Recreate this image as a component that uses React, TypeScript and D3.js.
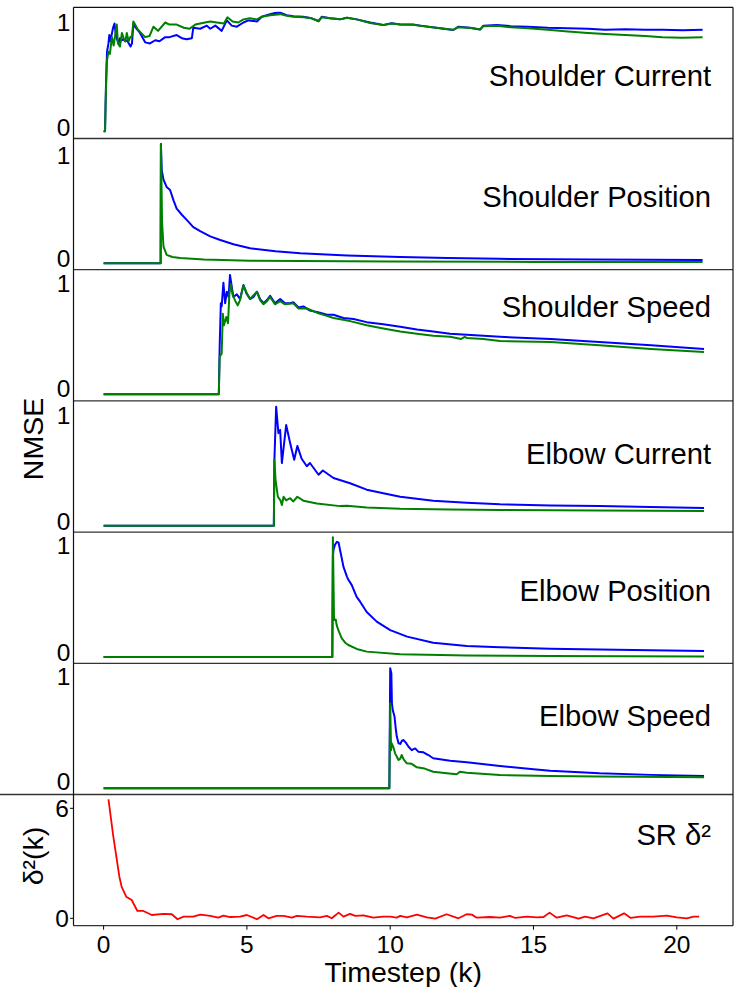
import React from 'react';
import * as d3 from 'd3';

type Pt = [number, number];

// ---------- data ----------
const panelTitles = ['Shoulder Current', 'Shoulder Position', 'Shoulder Speed', 'Elbow Current', 'Elbow Position', 'Elbow Speed', 'SR δ²'];
const xTicks = [0, 5, 10, 15, 20];
const nmseTicks = [0, 1];
const srTicks = [0, 6];
const xLabel = 'Timestep (k)';
const nmseLabel = 'NMSE';
const srLabel = 'δ²(k)';

const shoulderCurrentBlue: Pt[] = [
  [0, -0.04], [0.05, -0.04], [0.08, 0.37], [0.12, 0.72], [0.17, 0.8], [0.2, 0.88], [0.24, 0.82], [0.28, 0.88], [0.33, 0.95], [0.38, 0.99],
  [0.42, 0.9], [0.46, 0.85], [0.52, 0.8], [0.57, 0.85], [0.62, 0.83], [0.7, 0.84], [0.76, 0.82], [0.82, 0.83], [0.88, 0.8], [0.94, 0.77],
  [0.99, 0.8], [1.04, 0.99], [1.12, 0.95], [1.27, 0.9], [1.45, 0.81], [1.62, 0.8], [1.8, 0.83], [1.95, 0.82], [2.15, 0.86], [2.3, 0.86],
  [2.55, 0.88], [2.73, 0.85], [2.9, 0.84], [3.08, 0.85], [3.13, 0.95], [3.37, 0.94], [3.6, 0.97], [3.72, 0.94], [3.9, 0.97], [4.12, 0.92],
  [4.3, 1.02], [4.47, 0.97], [4.65, 0.96], [4.88, 1.0], [5.05, 1.02], [5.35, 1.01], [5.52, 1.055], [5.81, 1.08], [5.95, 1.09], [6.16, 1.094],
  [6.39, 1.07], [6.62, 1.06], [6.97, 1.055], [7.26, 1.04], [7.5, 1.014], [7.61, 1.055], [7.9, 1.04], [8.25, 1.03], [8.49, 1.046], [8.83, 1.03],
  [9.3, 1.0], [9.76, 0.976], [10.05, 0.992], [10.35, 0.98], [10.8, 0.98], [11.04, 0.97], [11.6, 0.95], [12.2, 0.928], [12.38, 0.96], [12.79, 0.95],
  [13.14, 0.934], [13.25, 0.97], [13.72, 0.976], [14.2, 0.965], [14.8, 0.96], [15.5, 0.95], [16.2, 0.945], [16.9, 0.94], [17.5, 0.93], [18.2, 0.935],
  [18.9, 0.93], [19.5, 0.93], [20.2, 0.925], [20.9, 0.93],
];
const shoulderCurrentGreen: Pt[] = [
  [0, -0.04], [0.05, -0.04], [0.07, 0.21], [0.11, 0.62], [0.17, 0.72], [0.22, 0.7], [0.29, 0.86], [0.35, 0.78], [0.46, 0.98], [0.5, 0.8],
  [0.57, 0.77], [0.64, 0.9], [0.7, 0.85], [0.76, 0.82], [0.81, 0.9], [0.87, 0.82], [0.93, 0.86], [0.99, 0.87], [1.04, 1.01], [1.2, 0.93],
  [1.45, 0.86], [1.6, 0.87], [1.74, 0.96], [1.9, 0.92], [2.15, 1.0], [2.3, 0.98], [2.55, 0.98], [2.8, 0.95], [3.0, 0.94], [3.2, 0.98],
  [3.54, 1.0], [3.72, 1.01], [3.95, 1.0], [4.2, 0.99], [4.32, 1.05], [4.5, 1.01], [4.7, 1.0], [4.88, 1.03], [5.1, 1.04], [5.35, 1.03],
  [5.52, 1.055], [5.81, 1.07], [6.16, 1.08], [6.39, 1.065], [6.62, 1.055], [6.97, 1.05], [7.26, 1.04], [7.5, 1.01], [7.61, 1.05], [7.9, 1.04],
  [8.25, 1.03], [8.49, 1.045], [8.83, 1.03], [9.3, 0.995], [9.76, 0.975], [10.05, 0.99], [10.35, 0.98], [10.8, 0.978], [11.04, 0.97], [11.6, 0.95],
  [12.2, 0.93], [12.38, 0.955], [12.79, 0.948], [13.14, 0.932], [13.25, 0.965], [13.72, 0.97], [14.2, 0.955], [14.8, 0.945], [15.5, 0.93], [16.2, 0.915],
  [16.9, 0.9], [17.5, 0.89], [18.2, 0.88], [18.9, 0.87], [19.5, 0.86], [20.2, 0.855], [20.9, 0.86],
];

const shoulderPositionBlue: Pt[] = [
  [0, -0.05], [1.99, -0.05], [2.0, 1.107], [2.03, 0.85], [2.09, 0.76], [2.2, 0.69], [2.32, 0.66], [2.44, 0.56], [2.55, 0.48], [2.73, 0.42],
  [2.9, 0.37], [3.13, 0.3], [3.37, 0.26], [3.72, 0.21], [4.07, 0.175], [4.53, 0.133], [5.11, 0.094], [6.0, 0.065], [6.86, 0.045], [8.5, 0.025],
  [10.35, 0.01], [12, 0.0], [13.8, -0.008], [17, -0.015], [20.9, -0.02],
];
const shoulderPositionGreen: Pt[] = [
  [0, -0.05], [1.99, -0.05], [2.0, 1.107], [2.04, 0.35], [2.09, 0.11], [2.2, 0.03], [2.4, 0.01], [2.67, 0.0], [3.5, -0.015], [5.11, -0.026],
  [10, -0.035], [15, -0.038], [20.9, -0.04],
];

const shoulderSpeedBlue: Pt[] = [
  [0, -0.057], [4.02, -0.057], [4.05, 0.4], [4.09, 0.81], [4.12, 0.78], [4.18, 1.006], [4.24, 0.81], [4.3, 0.92], [4.36, 0.87], [4.41, 1.08],
  [4.47, 0.97], [4.53, 0.87], [4.65, 0.895], [4.76, 0.85], [4.88, 0.984], [4.99, 0.9], [5.11, 0.85], [5.23, 0.87], [5.35, 0.92], [5.46, 0.85],
  [5.58, 0.81], [5.7, 0.84], [5.81, 0.88], [5.98, 0.81], [6.16, 0.85], [6.33, 0.81], [6.5, 0.81], [6.62, 0.82], [6.8, 0.77], [6.97, 0.78],
  [7.2, 0.74], [7.55, 0.72], [7.79, 0.7], [8.02, 0.7], [8.37, 0.67], [8.72, 0.66], [9.18, 0.63], [9.76, 0.61], [10.35, 0.587], [10.93, 0.56],
  [11.5, 0.54], [12.09, 0.52], [12.67, 0.51], [13.25, 0.5], [13.83, 0.49], [15.6, 0.47], [17.3, 0.44], [19.1, 0.41], [20.95, 0.375],
];
const shoulderSpeedGreen: Pt[] = [
  [0, -0.057], [4.02, -0.057], [4.05, 0.3], [4.12, 0.33], [4.16, 0.71], [4.2, 0.6], [4.28, 0.68], [4.34, 0.62], [4.39, 0.9], [4.44, 0.99],
  [4.5, 0.89], [4.6, 0.83], [4.68, 0.79], [4.76, 0.84], [4.88, 0.98], [4.99, 0.91], [5.11, 0.85], [5.35, 0.92], [5.46, 0.84], [5.58, 0.8],
  [5.7, 0.83], [5.81, 0.87], [5.98, 0.8], [6.16, 0.83], [6.33, 0.8], [6.62, 0.81], [6.8, 0.76], [7.1, 0.76], [7.44, 0.72], [7.79, 0.69],
  [8.02, 0.67], [8.6, 0.64], [9.18, 0.6], [9.76, 0.57], [10.35, 0.54], [10.93, 0.52], [11.5, 0.5], [12.09, 0.49], [12.48, 0.47], [12.6, 0.49],
  [12.67, 0.48], [13.25, 0.47], [13.83, 0.45], [15.6, 0.44], [17.3, 0.41], [19.1, 0.375], [20.95, 0.346],
];

const elbowCurrentBlue: Pt[] = [
  [0, -0.037], [5.94, -0.037], [5.96, 0.58], [6.02, 1.078], [6.1, 0.83], [6.16, 0.86], [6.22, 0.55], [6.37, 0.906], [6.51, 0.735], [6.65, 0.58],
  [6.76, 0.71], [6.91, 0.59], [7.09, 0.52], [7.2, 0.55], [7.5, 0.44], [7.65, 0.48], [8.02, 0.41], [8.6, 0.36], [9.18, 0.3], [9.76, 0.266],
  [10.35, 0.234], [11.5, 0.197], [12.67, 0.178], [13.83, 0.163], [15.6, 0.152], [17.3, 0.147], [19.07, 0.138], [20.95, 0.128],
];
const elbowCurrentGreen: Pt[] = [
  [0, -0.037], [5.94, -0.037], [5.96, 0.58], [6.0, 0.39], [6.08, 0.234], [6.17, 0.2], [6.22, 0.157], [6.28, 0.234], [6.37, 0.2], [6.51, 0.22],
  [6.62, 0.19], [6.76, 0.234], [6.97, 0.197], [7.44, 0.17], [8.25, 0.146], [8.49, 0.15], [9.18, 0.134], [10.35, 0.121], [12.1, 0.115], [13.83, 0.109],
  [17.3, 0.104], [20.95, 0.1],
];

const elbowPositionBlue: Pt[] = [
  [0, -0.04], [7.98, -0.04], [8.0, 0.9], [8.02, 0.958], [8.07, 1.005], [8.14, 1.035], [8.2, 1.026], [8.25, 0.958], [8.31, 0.88], [8.37, 0.8],
  [8.49, 0.71], [8.54, 0.68], [8.66, 0.63], [8.72, 0.59], [8.83, 0.52], [8.95, 0.476], [9.18, 0.38], [9.53, 0.29], [10.0, 0.21], [10.59, 0.15],
  [11.5, 0.093], [12.67, 0.0625], [13.83, 0.05], [15.58, 0.037], [17.3, 0.03], [19.1, 0.022], [20.95, 0.016],
];
const elbowPositionGreen: Pt[] = [
  [0, -0.04], [7.98, -0.04], [8.0, 1.077], [8.04, 0.305], [8.1, 0.31], [8.13, 0.26], [8.19, 0.21], [8.31, 0.134], [8.43, 0.093], [8.54, 0.072],
  [8.83, 0.035], [9.18, 0.01], [10.35, -0.015], [12.67, -0.025], [15.58, -0.031], [20.95, -0.035],
];

const elbowSpeedBlue: Pt[] = [
  [0, -0.063], [9.97, -0.063], [10.0, 1.08], [10.04, 1.03], [10.06, 0.747], [10.09, 0.68], [10.15, 0.62], [10.2, 0.49], [10.23, 0.43], [10.29, 0.366],
  [10.35, 0.36], [10.41, 0.39], [10.46, 0.397], [10.55, 0.37], [10.64, 0.333], [10.75, 0.3], [10.87, 0.317], [10.98, 0.286], [11.16, 0.28], [11.33, 0.254],
  [11.5, 0.223], [12.09, 0.2], [12.67, 0.185], [13.83, 0.15], [15.0, 0.118], [15.58, 0.105], [17.3, 0.08], [19.1, 0.065], [20.95, 0.054],
];
const elbowSpeedGreen: Pt[] = [
  [0, -0.063], [9.97, -0.063], [10.0, 0.747], [10.03, 0.3], [10.05, 0.366], [10.11, 0.33], [10.17, 0.27], [10.29, 0.207], [10.35, 0.22], [10.4, 0.254],
  [10.48, 0.207], [10.58, 0.175], [10.75, 0.17], [10.93, 0.137], [11.2, 0.125], [11.5, 0.095], [11.97, 0.08], [12.32, 0.07], [12.43, 0.095], [12.67, 0.086],
  [13.83, 0.064], [15.58, 0.054], [17.3, 0.05], [20.95, 0.043],
];

const srDelta: Pt[] = [
  [0.17, 6.49], [0.34, 4.45], [0.55, 2.27], [0.63, 1.72], [0.79, 1.18], [0.98, 1.0], [1.18, 0.4], [1.39, 0.4], [1.68, 0.18], [2.09, 0.24],
  [2.38, 0.22], [2.58, -0.05], [2.79, 0.09], [3.13, 0.09], [3.37, 0.2], [3.72, 0.13], [4.0, 0.035], [4.18, 0.15], [4.41, 0.07], [4.76, 0.09],
  [5.0, 0.18], [5.35, -0.05], [5.58, 0.18], [5.75, 0.0], [6.04, 0.13], [6.28, 0.13], [6.57, 0.035], [6.74, 0.13], [7.09, 0.09], [7.55, 0.055],
  [7.79, 0.13], [7.96, 0.0], [8.2, 0.31], [8.37, 0.09], [8.6, 0.24], [8.78, 0.13], [9.07, 0.16], [9.41, 0.035], [9.76, 0.09], [10.0, 0.09],
  [10.23, 0.035], [10.35, 0.13], [10.58, 0.055], [10.93, 0.2], [11.28, 0.055], [11.57, -0.02], [11.97, 0.22], [12.38, 0.0], [12.67, 0.22], [12.85, 0.2],
  [13.02, 0.035], [13.49, 0.07], [13.83, 0.035], [14.18, 0.13], [14.36, 0.018], [14.77, 0.09], [15.12, 0.055], [15.35, 0.07], [15.56, 0.31], [15.81, 0.035],
  [16.16, 0.16], [16.57, -0.02], [16.8, 0.09], [17.09, 0.0], [17.58, 0.27], [17.79, -0.02], [18.16, 0.27], [18.39, 0.018], [18.72, 0.09], [19.18, 0.09],
  [19.65, 0.15], [20.0, 0.055], [20.35, 0.0], [20.58, 0.09], [20.78, 0.09],
];

// ---------- layout ----------
const W = 735;
const H = 987;
const LEFT = 73.5;
const RIGHT = 733;
const panelTop = [7.3, 138.5, 269.7, 400.9, 532.1, 663.3, 794.5];
const PANEL_BOTTOM = 925.7;
// pixel positions of [low tick, high tick] for each panel
const tickPix: [number, number][] = [
  [127, 22.5], [258, 155], [388.3, 283.3], [521.7, 415], [652.7, 545.5], [781.7, 676.7], [918.3, 808.3],
];
const titleBaseline = [86, 207, 317, 464, 601, 726, 845];
const FONT = '"Liberation Sans", Arial, sans-serif';
const TITLE_SIZE = 29.2;
const TICK_SIZE = 24.5;
const BLUE = '#0000ff';
const GREEN = '#008000';
const RED = '#ff0000';

type Panel = { series: { data: Pt[]; color: string }[]; ticks: number[] };
const panels: Panel[] = [
  { series: [{ data: shoulderCurrentBlue, color: BLUE }, { data: shoulderCurrentGreen, color: GREEN }], ticks: nmseTicks },
  { series: [{ data: shoulderPositionBlue, color: BLUE }, { data: shoulderPositionGreen, color: GREEN }], ticks: nmseTicks },
  { series: [{ data: shoulderSpeedBlue, color: BLUE }, { data: shoulderSpeedGreen, color: GREEN }], ticks: nmseTicks },
  { series: [{ data: elbowCurrentBlue, color: BLUE }, { data: elbowCurrentGreen, color: GREEN }], ticks: nmseTicks },
  { series: [{ data: elbowPositionBlue, color: BLUE }, { data: elbowPositionGreen, color: GREEN }], ticks: nmseTicks },
  { series: [{ data: elbowSpeedBlue, color: BLUE }, { data: elbowSpeedGreen, color: GREEN }], ticks: nmseTicks },
  { series: [{ data: srDelta, color: RED }], ticks: srTicks },
];

export default function App() {
  const x = d3.scaleLinear().domain([-1.05, 21.96]).range([LEFT, RIGHT]);
  const nPanels = panels.length;

  return (
    <svg
      width={W}
      height={H}
      viewBox={`0 0 ${W} ${H}`}
      style={{ position: 'absolute', left: 0, top: 0, background: '#fff', fontFamily: FONT }}
    >
      <rect x={0} y={0} width={W} height={H} fill="#fff" />
      <defs>
        {panels.map((_, i) => {
          const top = panelTop[i];
          const bottom = i < nPanels - 1 ? panelTop[i + 1] : PANEL_BOTTOM;
          return (
            <clipPath id={`clip${i}`} key={i}>
              <rect x={LEFT} y={top} width={RIGHT - LEFT} height={bottom - top} />
            </clipPath>
          );
        })}
      </defs>
      {panels.map((p, i) => {
        const [lo, hi] = p.ticks;
        const y = d3.scaleLinear().domain([lo, hi]).range(tickPix[i]);
        const line = d3
          .line<Pt>()
          .x((d) => x(d[0]))
          .y((d) => y(d[1]));
        return (
          <g key={i}>
            <g clipPath={`url(#clip${i})`}>
              {p.series.map((s, j) => (
                <path
                  key={j}
                  d={line(s.data) || ''}
                  fill="none"
                  stroke={s.color}
                  strokeWidth={i === nPanels - 1 ? 1.8 : 2}
                  strokeLinejoin="round"
                />
              ))}
            </g>
            {p.ticks.map((t) => (
              <g key={t}>
                {i === nPanels - 1 && (
                  <line x1={LEFT - 3.5} x2={LEFT} y1={y(t)} y2={y(t)} stroke="#000" strokeWidth={1} />
                )}
                <text x={i === nPanels - 1 ? 69 : 70.5} y={y(t) + 8.6} fontSize={TICK_SIZE} textAnchor="end" fill="#000">
                  {t}
                </text>
              </g>
            ))}
            <text x={711} y={titleBaseline[i]} fontSize={TITLE_SIZE} textAnchor="end" fill="#000">
              {panelTitles[i]}
            </text>
          </g>
        );
      })}
      {/* frame */}
      <line x1={LEFT} x2={RIGHT} y1={panelTop[0]} y2={panelTop[0]} stroke="#111" strokeWidth={1.2} />
      {panelTop.slice(1).map((t, i) => (
        <line
          key={i}
          x1={i === panelTop.length - 2 ? 0 : LEFT}
          x2={RIGHT}
          y1={t}
          y2={t}
          stroke="#333"
          strokeWidth={1.3}
        />
      ))}
      <line x1={LEFT} x2={RIGHT} y1={PANEL_BOTTOM} y2={PANEL_BOTTOM} stroke="#333" strokeWidth={1.3} />
      <line x1={LEFT} x2={LEFT} y1={panelTop[0]} y2={PANEL_BOTTOM} stroke="#111" strokeWidth={1.2} />
      <line x1={RIGHT} x2={RIGHT} y1={panelTop[0]} y2={PANEL_BOTTOM} stroke="#111" strokeWidth={1.2} />
      {/* x axis */}
      {xTicks.map((t) => (
        <g key={t}>
          <line x1={x(t)} x2={x(t)} y1={PANEL_BOTTOM} y2={PANEL_BOTTOM + 4} stroke="#000" strokeWidth={1} />
          <text x={x(t)} y={952.7} fontSize={TICK_SIZE} textAnchor="middle" fill="#000">
            {t}
          </text>
        </g>
      ))}
      <text x={(LEFT + RIGHT) / 2} y={981.5} fontSize={28.5} textAnchor="middle" fill="#000">
        {xLabel}
      </text>
      <text transform="translate(43.3,439) rotate(-90)" fontSize={28.5} textAnchor="middle" fill="#000">
        {nmseLabel}
      </text>
      <text transform="translate(42.5,856) rotate(-90)" fontSize={28.5} textAnchor="middle" fill="#000">
        {srLabel}
      </text>
    </svg>
  );
}
